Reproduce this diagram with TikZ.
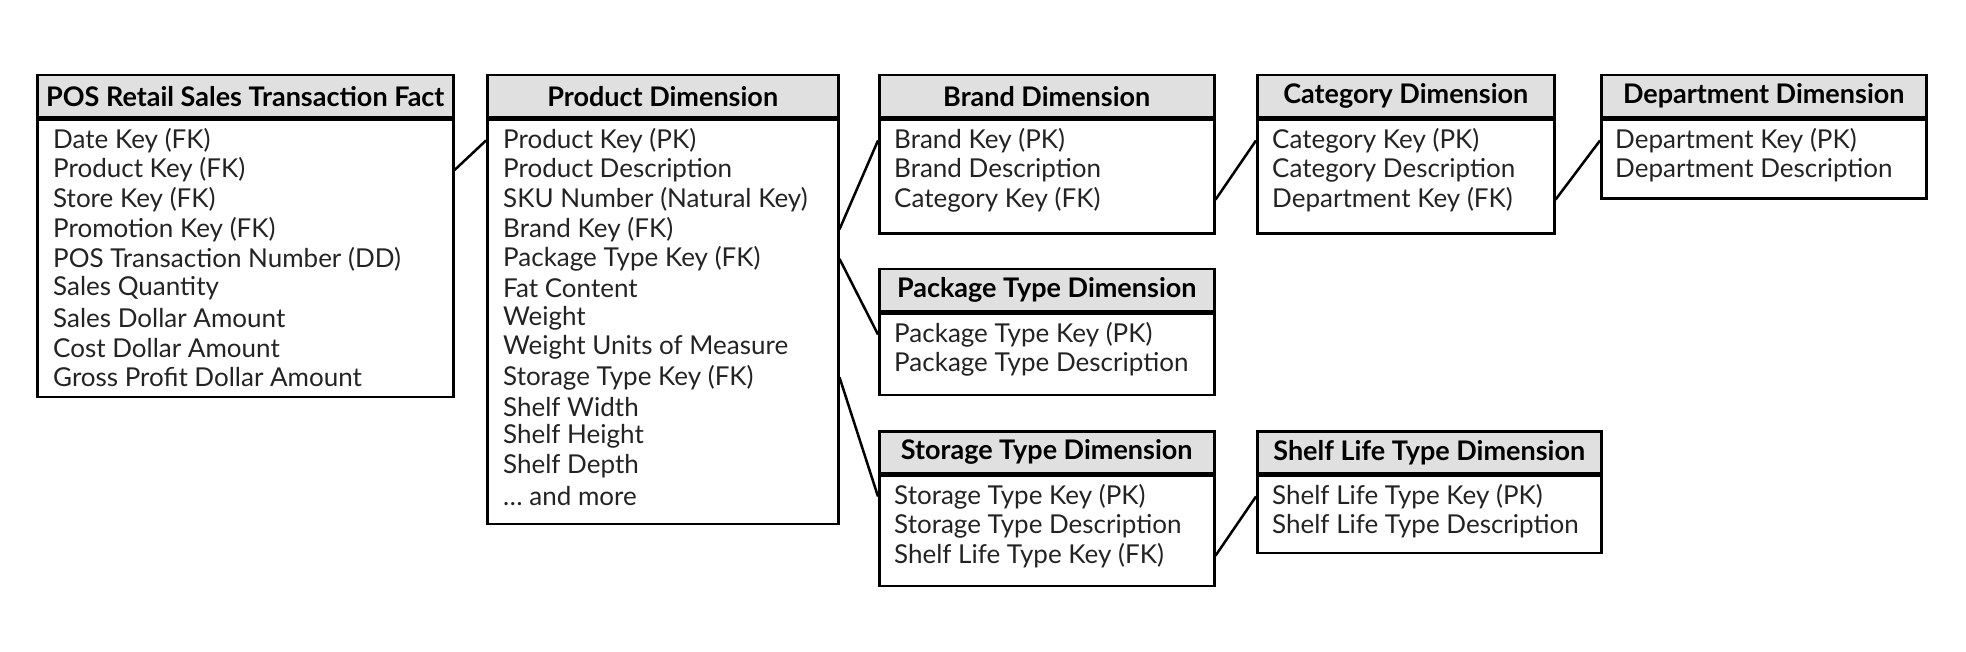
\documentclass[tikz,border=0pt]{standalone}
\usepackage{fontspec}
\setmainfont{Lato}
\usetikzlibrary{calc}

\begin{document}
\begin{tikzpicture}[x=1pt, y=-1pt,
    font=\fontsize{26}{30}\selectfont,
    hdr/.style={draw, line width=2.5pt, fill=hdrgray, inner sep=0pt,
      font=\fontsize{27}{30}\selectfont\bfseries, anchor=north west,
      minimum height=42pt},
    tblbody/.style={draw, line width=2.5pt, inner sep=0pt, anchor=north west},
    field/.style={anchor=west, inner sep=0pt, text=fieldgray},
    link/.style={line width=2.5pt}]
  % Define colors
  \definecolor{hdrgray}{RGB}{224,224,224}
  \definecolor{fieldgray}{RGB}{35,35,35}

  \useasboundingbox (0,0) rectangle (1966,652);

  % Table frames: name/x/y/width/body height/title
  \foreach \name/\x/\y/\w/\h/\title in {
      pos/36/74/416/277/{POS Retail Sales Transaction Fact},
      prod/486/74/351/404/{Product Dimension},
      brand/878/74/335/114/{Brand Dimension},
      cat/1256/74/297/114/{Category Dimension},
      dept/1600/74/325/79/{Department Dimension},
      pack/878/268/335/81/{Package Type Dimension},
      stor/878/430/335/110/{Storage Type Dimension},
      shelf/1256/430/344/77/{Shelf Life Type Dimension}} {
    \node[hdr, minimum width=\w pt] (\name) at (\x,\y) {\title};
    \node[tblbody, minimum width=\w pt, minimum height=\h pt] (\name-b)
      at (\name.south west) {};
  }

  % Field rows of each table
  \foreach \row [count=\i] in {Date Key (FK), Product Key (FK), Store Key (FK),
      Promotion Key (FK), POS Transaction Number (DD), Sales Quantity,
      Sales Dollar Amount, Cost Dollar Amount, Gross Profit Dollar Amount} {
    \node[field] (pos-\i) at ($(pos-b.north west)+(17,{22+(\i-1)*29.6})$) {\row};
  }
  \foreach \row [count=\i] in {Product Key (PK), Product Description,
      SKU Number (Natural Key), Brand Key (FK), Package Type Key (FK),
      Fat Content, Weight, Weight Units of Measure, Storage Type Key (FK),
      Shelf Width, Shelf Height, Shelf Depth, … and more} {
    \node[field] (prod-\i) at ($(prod-b.north west)+(17,{22+(\i-1)*29.6})$) {\row};
  }
  \foreach \row [count=\i] in {Brand Key (PK), Brand Description,
      Category Key (FK)} {
    \node[field] (brand-\i) at ($(brand-b.north west)+(16,{22+(\i-1)*29.6})$) {\row};
  }
  \foreach \row [count=\i] in {Category Key (PK), Category Description,
      Department Key (FK)} {
    \node[field] (cat-\i) at ($(cat-b.north west)+(16,{22+(\i-1)*29.6})$) {\row};
  }
  \foreach \row [count=\i] in {Department Key (PK), Department Description} {
    \node[field] (dept-\i) at ($(dept-b.north west)+(15,{22+(\i-1)*29.6})$) {\row};
  }
  \foreach \row [count=\i] in {Package Type Key (PK), Package Type Description} {
    \node[field] (pack-\i) at ($(pack-b.north west)+(16,{22+(\i-1)*29.6})$) {\row};
  }
  \foreach \row [count=\i] in {Storage Type Key (PK), Storage Type Description,
      Shelf Life Type Key (FK)} {
    \node[field] (stor-\i) at ($(stor-b.north west)+(16,{22+(\i-1)*29.6})$) {\row};
  }
  \foreach \row [count=\i] in {Shelf Life Type Key (PK),
      Shelf Life Type Description} {
    \node[field] (shelf-\i) at ($(shelf-b.north west)+(16,{22+(\i-1)*29.6})$) {\row};
  }

  % Key links between tables
  \draw[link] (pos.east |- pos-2) -- (prod.west |- prod-1);
  \draw[link] (prod.east |- prod-4) -- (brand.west |- brand-1);
  \draw[link] (prod.east |- prod-5) -- (pack.west |- pack-1);
  \draw[link] (prod.east |- prod-9) -- (stor.west |- stor-1);
  \draw[link] (brand.east |- brand-3) -- (cat.west |- cat-1);
  \draw[link] (cat.east |- cat-3) -- (dept.west |- dept-1);
  \draw[link] (stor.east |- stor-3) -- (shelf.west |- shelf-1);
\end{tikzpicture}
\end{document}
